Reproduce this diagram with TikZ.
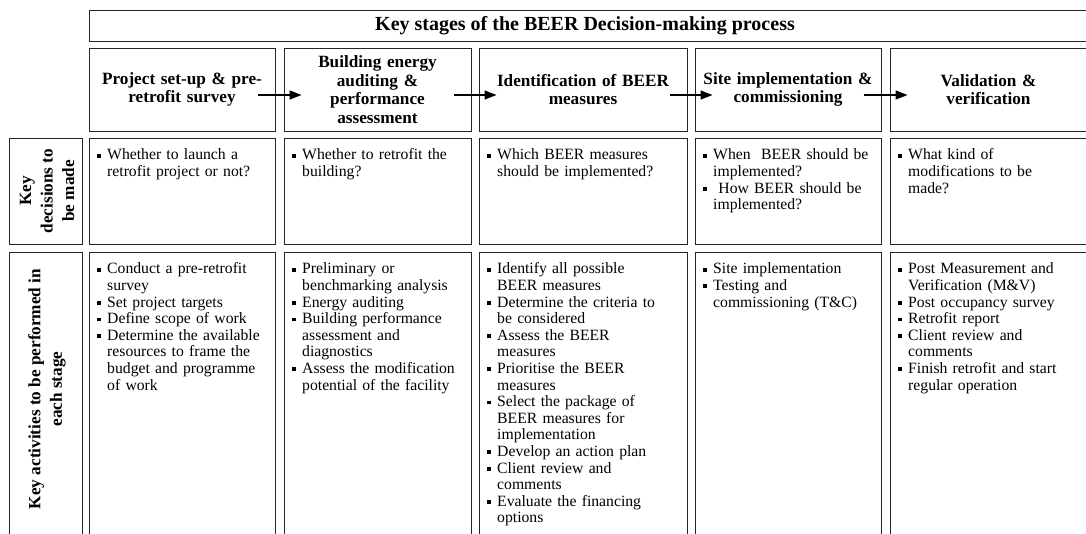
\documentclass[tikz,border=0pt]{standalone}
\usepackage{fontspec}
\setmainfont{Liberation Serif}
\usetikzlibrary{arrows.meta}

% bullet item with hanging indent; explicit line breaks via \newline
\newlength\bulind
\setlength\bulind{10pt}
\newcommand\sqbullet{\rule[2.3pt]{3.8pt}{3.8pt}}
\newcommand\bitem[1]{\par\noindent\hangindent=\bulind\hangafter=1\makebox[\bulind][l]{\sqbullet}#1\par}

\begin{document}
\begin{tikzpicture}[x=1pt,y=-1pt,
  cell/.style={draw=black!85, line width=1pt, anchor=north west, inner sep=0pt, outer sep=0pt},
  headtext/.style={font=\bfseries\fontsize{20}{22}\selectfont, align=center},
  stagetext/.style={font=\bfseries\fontsize{17.2}{18.5}\selectfont, align=center, text width=#1},
  sidetext/.style={font=\bfseries\fontsize{17.2}{21.5}\selectfont, align=center, rotate=90},
  bodytext/.style={anchor=north west, inner sep=0pt, text width=#1, align=left,
    font=\fontsize{15.7}{16.6}\selectfont},
  flow/.style={line width=1.5pt, -{Triangle[length=12pt,width=9pt]}}
]
\useasboundingbox (0,0) rectangle (1086,533);
\clip (0,0) rectangle (1086,533);

% header bar
\node[cell, minimum width=1000, minimum height=31] (head) at (89,10) {};
\node[headtext] (headlbl) at (585,25.5) {Key stages of the BEER Decision-making process};

% stage boxes
\node[cell, minimum width=186, minimum height=83] (s1) at (89,48) {};
\node[cell, minimum width=187, minimum height=83] (s2) at (284,48) {};
\node[cell, minimum width=208, minimum height=83] (s3) at (479,48) {};
\node[cell, minimum width=186, minimum height=83] (s4) at (695,48) {};
\node[cell, minimum width=200, minimum height=83] (s5) at (890,48) {};

\node[stagetext=180] (t1) at (s1.center) {Project set-up \& pre-\\retrofit survey};
\node[stagetext=180] (t2) at (s2.center) {Building energy\\auditing \&\\performance\\assessment};
\node[stagetext=205] (t3) at (s3.center) {Identification of BEER\\measures};
\node[stagetext=185] (t4) at (s4.center) {Site implementation \&\\commissioning};
\node[stagetext=180] (t5) at ([xshift=-1.5pt]s5.center) {Validation \&\\verification};

% arrows between stages
\draw[flow] ([xshift=-17.5pt,yshift=-5.5pt]s1.east) -- ([xshift=17.5pt,yshift=-5.5pt]s2.west);
\draw[flow] ([xshift=-17.5pt,yshift=-5.5pt]s2.east) -- ([xshift=17.5pt,yshift=-5.5pt]s3.west);
\draw[flow] ([xshift=-17.5pt,yshift=-5.5pt]s3.east) -- ([xshift=17.5pt,yshift=-5.5pt]s4.west);
\draw[flow] ([xshift=-17.5pt,yshift=-5.5pt]s4.east) -- ([xshift=17.5pt,yshift=-5.5pt]s5.west);

% row labels
\node[cell, minimum width=73, minimum height=106] (l1) at (9,138) {};
\node[cell, minimum width=73, minimum height=290] (l2) at (9,252) {};
\node[sidetext] (l1t) at ([xshift=1.5pt]l1.center) {Key\\decisions to\\be made};
\node[sidetext] (l2t) at (47,389) {Key activities to be performed in\\each stage};

% decision cells
\node[cell, minimum width=186, minimum height=106] (d1) at (89,138) {};
\node[cell, minimum width=187, minimum height=106] (d2) at (284,138) {};
\node[cell, minimum width=208, minimum height=106] (d3) at (479,138) {};
\node[cell, minimum width=186, minimum height=106] (d4) at (695,138) {};
\node[cell, minimum width=200, minimum height=106] (d5) at (890,138) {};

\node[bodytext=176] (d1t) at ([xshift=8pt,yshift=-5pt]d1.north west) {%
  \bitem{Whether to launch a\newline retrofit project or not?}};
\node[bodytext=176] (d2t) at ([xshift=8pt,yshift=-5pt]d2.north west) {%
  \bitem{Whether to retrofit the\newline building?}};
\node[bodytext=198] (d3t) at ([xshift=8pt,yshift=-5pt]d3.north west) {%
  \bitem{Which BEER measures\newline should be implemented?}};
\node[bodytext=176] (d4t) at ([xshift=8pt,yshift=-5pt]d4.north west) {%
  \bitem{When\ \ BEER should be\newline implemented?}
  \bitem{\ How BEER should be\newline implemented?}};
\node[bodytext=185] (d5t) at ([xshift=8pt,yshift=-5pt]d5.north west) {%
  \bitem{What kind of\newline modifications to be\newline made?}};

% activity cells
\node[cell, minimum width=186, minimum height=290] (a1) at (89,252) {};
\node[cell, minimum width=187, minimum height=290] (a2) at (284,252) {};
\node[cell, minimum width=208, minimum height=290] (a3) at (479,252) {};
\node[cell, minimum width=186, minimum height=290] (a4) at (695,252) {};
\node[cell, minimum width=200, minimum height=290] (a5) at (890,252) {};

\node[bodytext=176] (a1t) at ([xshift=8pt,yshift=-5pt]a1.north west) {%
  \bitem{Conduct a pre-retrofit\newline survey}
  \bitem{Set project targets}
  \bitem{Define scope of work}
  \bitem{Determine the available\newline resources to frame the\newline budget and programme\newline of work}};
\node[bodytext=176] (a2t) at ([xshift=8pt,yshift=-5pt]a2.north west) {%
  \bitem{Preliminary or\newline benchmarking analysis}
  \bitem{Energy auditing}
  \bitem{Building performance\newline assessment and\newline diagnostics}
  \bitem{Assess the modification\newline potential of the facility}};
\node[bodytext=198] (a3t) at ([xshift=8pt,yshift=-5pt]a3.north west) {%
  \bitem{Identify all possible\newline BEER measures}
  \bitem{Determine the criteria to\newline be considered}
  \bitem{Assess the BEER\newline measures}
  \bitem{Prioritise the BEER\newline measures}
  \bitem{Select the package of\newline BEER measures for\newline implementation}
  \bitem{Develop an action plan}
  \bitem{Client review and\newline comments}
  \bitem{Evaluate the financing\newline options}};
\node[bodytext=176] (a4t) at ([xshift=8pt,yshift=-5pt]a4.north west) {%
  \bitem{Site implementation}
  \bitem{Testing and\newline commissioning (T\&C)}};
\node[bodytext=185] (a5t) at ([xshift=8pt,yshift=-5pt]a5.north west) {%
  \bitem{Post Measurement and\newline Verification (M\&V)}
  \bitem{Post occupancy survey}
  \bitem{Retrofit report}
  \bitem{Client review and\newline comments}
  \bitem{Finish retrofit and start\newline regular operation}};
\end{tikzpicture}
\end{document}
